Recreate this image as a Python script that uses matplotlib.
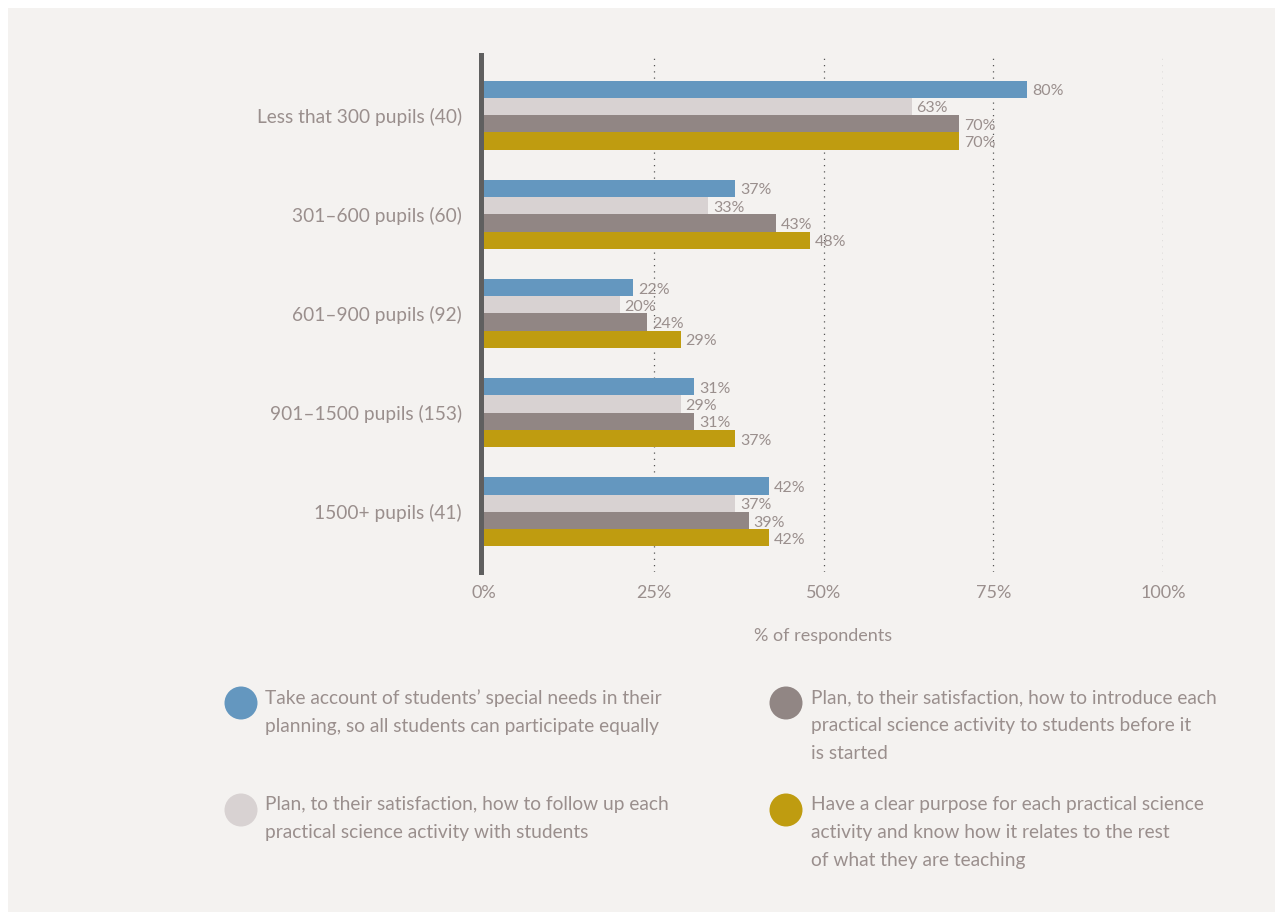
import matplotlib.pyplot as plt
from matplotlib.patches import Rectangle, Ellipse

plt.rcParams['font.family'] = ['Lato', 'DejaVu Sans']

groups = ['Less that 300 pupils (40)', '301\u2013600 pupils (60)', '601\u2013900 pupils (92)',
          '901\u20131500 pupils (153)', '1500+ pupils (41)']
special_needs = [80, 37, 22, 31, 42]
follow_up = [63, 33, 20, 29, 37]
introduce = [70, 43, 24, 31, 39]
clear_purpose = [70, 48, 29, 37, 42]
xticks = [0, 25, 50, 75, 100]

legend_labels = [
    'Take account of students\u2019 special needs in their\nplanning, so all students can participate equally',
    'Plan, to their satisfaction, how to follow up each\npractical science activity with students',
    'Plan, to their satisfaction, how to introduce each\npractical science activity to students before it\nis started',
    'Have a clear purpose for each practical science\nactivity and know how it relates to the rest\nof what they are teaching',
]

colors = ['#6497bf', '#d8d2d2', '#918684', '#bf9c10']
txt = '#9a8f8d'
bg = '#f4f2f0'

W, H = 1283, 916
fig = plt.figure(figsize=(W / 100, H / 100), dpi=100, facecolor='white')
fig.patches.append(Rectangle((8 / W, 4 / H), 1267 / W, 904 / H, transform=fig.transFigure,
                             facecolor=bg, edgecolor='none', zorder=-10))

# plot area in pixels: x 484..1163, y 55..572
ax = fig.add_axes([484 / W, 1 - 572 / H, 679 / W, 517 / H])
ax.set_facecolor('none')

series = [special_needs, follow_up, introduce, clear_purpose]
bh = 0.174
for i, (vals, c) in enumerate(zip(series, colors)):
    for g, v in enumerate(vals):
        y = g - 1.5 * bh + i * bh
        ax.barh(y, v, height=bh, color=c, zorder=2)
        ax.text(v + 0.7, y + 0.02, '%d%%' % v, va='center', ha='left', color=txt,
                fontsize=11.5, zorder=3)

ax.set_xlim(0, 100)
ax.set_ylim(4.605, -0.605)
for x in xticks[1:]:
    ax.axvline(x, color='#555555', linestyle=(0, (1, 4)), linewidth=0.9, zorder=1)

for s in ['top', 'right', 'bottom']:
    ax.spines[s].set_visible(False)
ax.spines['left'].set_color('#5f5f5f')
ax.spines['left'].set_linewidth(3.6)
ax.spines['left'].set_position(('outward', 2))
ax.spines['left'].set_zorder(4)

ax.set_yticks(range(len(groups)))
ax.set_yticklabels(groups, fontsize=13.8, color=txt)
ax.tick_params(axis='y', length=0, pad=14)
ax.set_xticks(xticks)
ax.set_xticklabels(['%d%%' % x for x in xticks], fontsize=13, color=txt)
ax.tick_params(axis='x', length=0, pad=9)
ax.set_xlabel('% of respondents', fontsize=13, color=txt, labelpad=20)

# legend: circles with wrapped text, two columns
pos = [(241, 703, 265), (241, 810, 265), (786, 703, 811), (786, 810, 811)]
for (cx, cy, tx), c, lab in zip(pos, colors, legend_labels):
    fig.patches.append(Ellipse((cx / W, 1 - cy / H), 33 / W, 33 / H, transform=fig.transFigure,
                               facecolor=c, edgecolor='none'))
    fig.text(tx / W, 1 - (cy - 14) / H, lab, ha='left', va='top', fontsize=13.8,
             color=txt, linespacing=1.78)

fig.savefig('out.png', dpi=100, facecolor='white')
